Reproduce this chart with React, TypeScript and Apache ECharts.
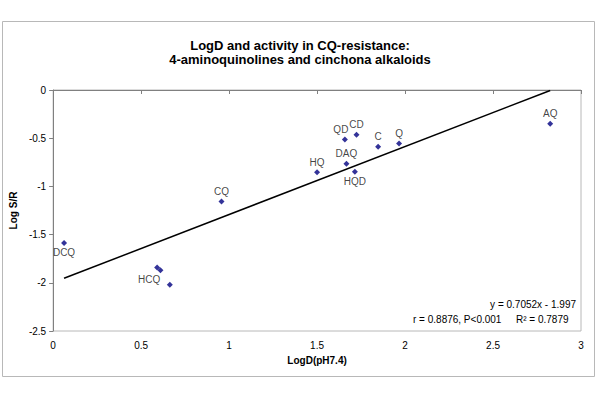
import React, { useEffect, useRef } from "react";
import * as echarts from "echarts";

const names = ["DCQ", "HCQ", "", "", "CQ", "HQ", "DAQ", "HQD", "QD", "CD", "C", "Q", "AQ"];
const logD = [0.062, 0.591, 0.61, 0.663, 0.957, 1.5, 1.667, 1.715, 1.658, 1.724, 1.847, 1.966, 2.825];
const logSR = [-1.587, -1.84, -1.87, -2.02, -1.157, -0.852, -0.766, -0.849, -0.513, -0.464, -0.589, -0.554, -0.35];
const labelPos: string[] = ["bottom", "hcq", "", "", "top", "top", "top", "bottom", "topleft", "top", "top", "top", "top"];
const slope = 0.7052;
const intercept = -1.997;
const xTicks = [0, 0.5, 1, 1.5, 2, 2.5, 3];
const yTicks = [0, -0.5, -1, -1.5, -2, -2.5];

const FONT = "Liberation Sans, Arial, sans-serif";

export default function App() {
  const ref = useRef<HTMLDivElement>(null);
  useEffect(() => {
    document.body.style.margin = "0";
    const chart = echarts.init(ref.current!, null, { renderer: "svg" });
    const xMin = Math.min(...logD);
    const xMax = Math.max(...logD);
    const points = logD.map((x, i) => {
      const p = labelPos[i];
      let label: any = { show: false };
      if (names[i]) {
        label = {
          show: true,
          formatter: names[i],
          fontSize: 10,
          fontFamily: FONT,
          color: "#111",
          distance: 2,
          position: "top",
        };
        if (p === "bottom") label.position = "bottom";
        if (p === "topleft") label.offset = [-4, 0];
        if (p === "hcq") {
          label.position = "bottom";
          label.offset = [-8, 2];
        }
      }
      return { value: [x, logSR[i]], label };
    });
    chart.setOption({
      animation: false,
      backgroundColor: "#fff",
      title: {
        text: "LogD and activity in CQ-resistance:\n4-aminoquinolines and cinchona alkaloids",
        left: "center",
        top: 33,
        textStyle: { fontFamily: FONT, fontSize: 13, fontWeight: "bold", color: "#000", lineHeight: 14 },
      },
      grid: { left: 53, right: 19, top: 90, bottom: 69, show: true, borderColor: "#b8b8b8", borderWidth: 1 },
      xAxis: {
        type: "value",
        min: 0,
        max: 3,
        interval: 0.5,
        name: "LogD(pH7.4)",
        nameLocation: "middle",
        nameGap: 24,
        nameTextStyle: { fontFamily: FONT, fontSize: 10, fontWeight: "bold", color: "#000" },
        axisLine: { lineStyle: { color: "#808080" } },
        axisTick: { show: true, inside: false, length: 4, lineStyle: { color: "#808080" } },
        axisLabel: { fontFamily: FONT, fontSize: 10, color: "#000", margin: 9, formatter: (v: number) => (xTicks.includes(v) ? String(v) : "") },
        splitLine: { show: false },
      },
      yAxis: {
        type: "value",
        min: -2.5,
        max: 0,
        interval: 0.5,
        name: "Log S/R",
        nameLocation: "middle",
        nameGap: 27,
        nameRotate: 90,
        nameTextStyle: { fontFamily: FONT, fontSize: 10, fontWeight: "bold", color: "#000" },
        axisLine: { show: true, lineStyle: { color: "#808080" } },
        axisTick: { show: true, inside: false, length: 4, lineStyle: { color: "#808080" } },
        axisLabel: { fontFamily: FONT, fontSize: 10, color: "#000", margin: 7, formatter: (v: number) => (yTicks.includes(v) ? String(v) : "") },
        splitLine: { show: false },
      },
      graphic: [
        { type: "rect", shape: { x: 2.5, y: 21.5, width: 592, height: 355 }, style: { fill: "none", stroke: "#b8b8b8", lineWidth: 1 }, z: 0 },
        { type: "text", right: 24, top: 299, style: { text: "y = 0.7052x - 1.997", fontFamily: FONT, fontSize: 10, fill: "#000" } },
        { type: "text", left: 516, top: 314, style: { text: "R² = 0.7879", fontFamily: FONT, fontSize: 10, fill: "#000" } },
        { type: "text", left: 413, top: 314, style: { text: "r = 0.8876, P<0.001", fontFamily: FONT, fontSize: 10, fill: "#000" } },
      ],
      series: [
        {
          type: "scatter",
          symbol: "diamond",
          symbolSize: 6,
          itemStyle: { color: "#000080" },
          data: points,
          z: 3,
        },
        {
          type: "line",
          data: [
            [xMin, slope * xMin + intercept],
            [xMax, slope * xMax + intercept],
          ],
          symbol: "none",
          lineStyle: { color: "#000", width: 1.5 },
          z: 2,
        },
      ],
    });
    return () => chart.dispose();
  }, []);
  return <div ref={ref} style={{ width: 600, height: 400 }} />;
}
